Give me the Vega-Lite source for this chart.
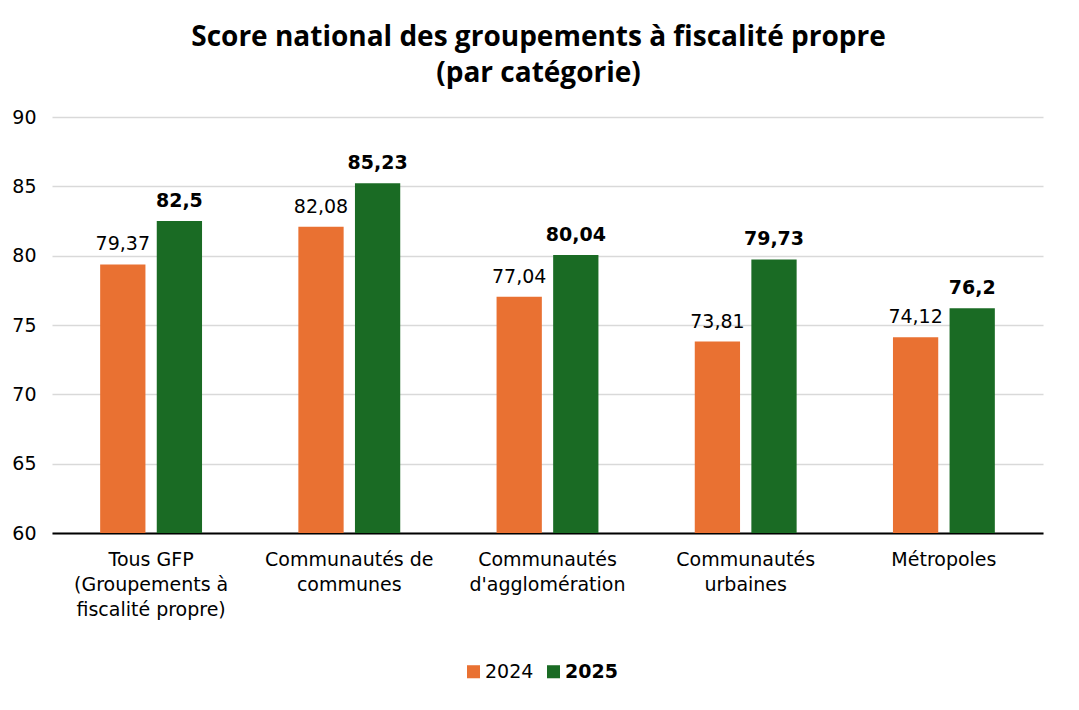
{
  "$schema": "https://vega.github.io/schema/vega-lite/v6.json",
  "width": 991,
  "height": 416,
  "autosize": "none",
  "padding": {"left": 52, "top": 117, "right": 36, "bottom": 177},
  "background": "white",
  "config": {
    "font": "DejaVu Sans",
    "view": {"stroke": null},
    "locale": {"number": {"decimal": ",", "thousands": " ", "grouping": [3], "currency": ["", " €"]}}
  },
  "title": {
    "text": ["Score national des groupements à fiscalité propre", "(par catégorie)"],
    "font": "Open Sans",
    "fontSize": 28,
    "fontWeight": "bold",
    "color": "black",
    "lineHeight": 36,
    "offset": 20,
    "anchor": "middle",
    "dx": -9
  },
  "data": {
    "values": [
      {"cat": "Tous GFP|(Groupements à|fiscalité propre)", "year": "2024", "value": 79.37},
      {"cat": "Tous GFP|(Groupements à|fiscalité propre)", "year": "2025", "value": 82.5},
      {"cat": "Communautés de|communes", "year": "2024", "value": 82.08},
      {"cat": "Communautés de|communes", "year": "2025", "value": 85.23},
      {"cat": "Communautés|d'agglomération", "year": "2024", "value": 77.04},
      {"cat": "Communautés|d'agglomération", "year": "2025", "value": 80.04},
      {"cat": "Communautés|urbaines", "year": "2024", "value": 73.81},
      {"cat": "Communautés|urbaines", "year": "2025", "value": 79.73},
      {"cat": "Métropoles", "year": "2024", "value": 74.12},
      {"cat": "Métropoles", "year": "2025", "value": 76.2}
    ]
  },
  "encoding": {
    "x": {
      "field": "cat", "type": "nominal", "sort": null,
      "scale": {"paddingInner": 0.486, "paddingOuter": 0.243},
      "axis": {
        "title": null, "labelAngle": 0, "labelFontSize": 19, "labelColor": "black",
        "labelExpr": "split(datum.label, '|')", "labelLineHeight": 25, "labelPadding": 26,
        "ticks": false, "domainColor": "black", "domainWidth": 2, "labelLimit": 300,
        "labelBaseline": "middle"
      }
    },
    "xOffset": {"field": "year", "type": "nominal", "scale": {"paddingInner": 0.2}},
    "y": {
      "field": "value", "type": "quantitative",
      "scale": {"domain": [60, 90], "nice": false, "zero": false},
      "axis": {
        "title": null, "values": [60, 65, 70, 75, 80, 85, 90],
        "labelFontSize": 19, "labelColor": "black", "domain": false, "ticks": false,
        "gridColor": "#d9d9d9", "gridWidth": 1.5, "labelPadding": 16, "labelOverlap": false
      }
    }
  },
  "layer": [
    {
      "mark": {"type": "bar"},
      "encoding": {
        "y2": {"datum": 60},
        "color": {
          "field": "year", "type": "nominal",
          "scale": {"domain": ["2024", "2025"], "range": ["#E97132", "#1A6B24"]},
          "legend": {
            "title": null, "orient": "none", "direction": "horizontal",
            "legendX": 412, "legendY": 545,
            "symbolType": "square", "symbolSize": 170, "symbolStrokeWidth": 0,
            "labelFontSize": 19, "labelColor": "black", "columnPadding": 10, "labelOffset": 2,
            "encode": {"labels": {"update": {"fontWeight": {"signal": "datum.label == '2025' ? 'bold' : 'normal'"}}}}
          }
        }
      }
    },
    {
      "transform": [{"filter": "datum.year == '2024'"}],
      "mark": {"type": "text", "baseline": "bottom", "dy": -10, "fontSize": 19, "color": "black"},
      "encoding": {"text": {"field": "value", "type": "quantitative", "format": "~f"}}
    },
    {
      "transform": [{"filter": "datum.year == '2025'"}],
      "mark": {"type": "text", "baseline": "bottom", "dy": -10, "fontSize": 19, "fontWeight": "bold", "color": "black"},
      "encoding": {"text": {"field": "value", "type": "quantitative", "format": "~f"}}
    }
  ]
}
